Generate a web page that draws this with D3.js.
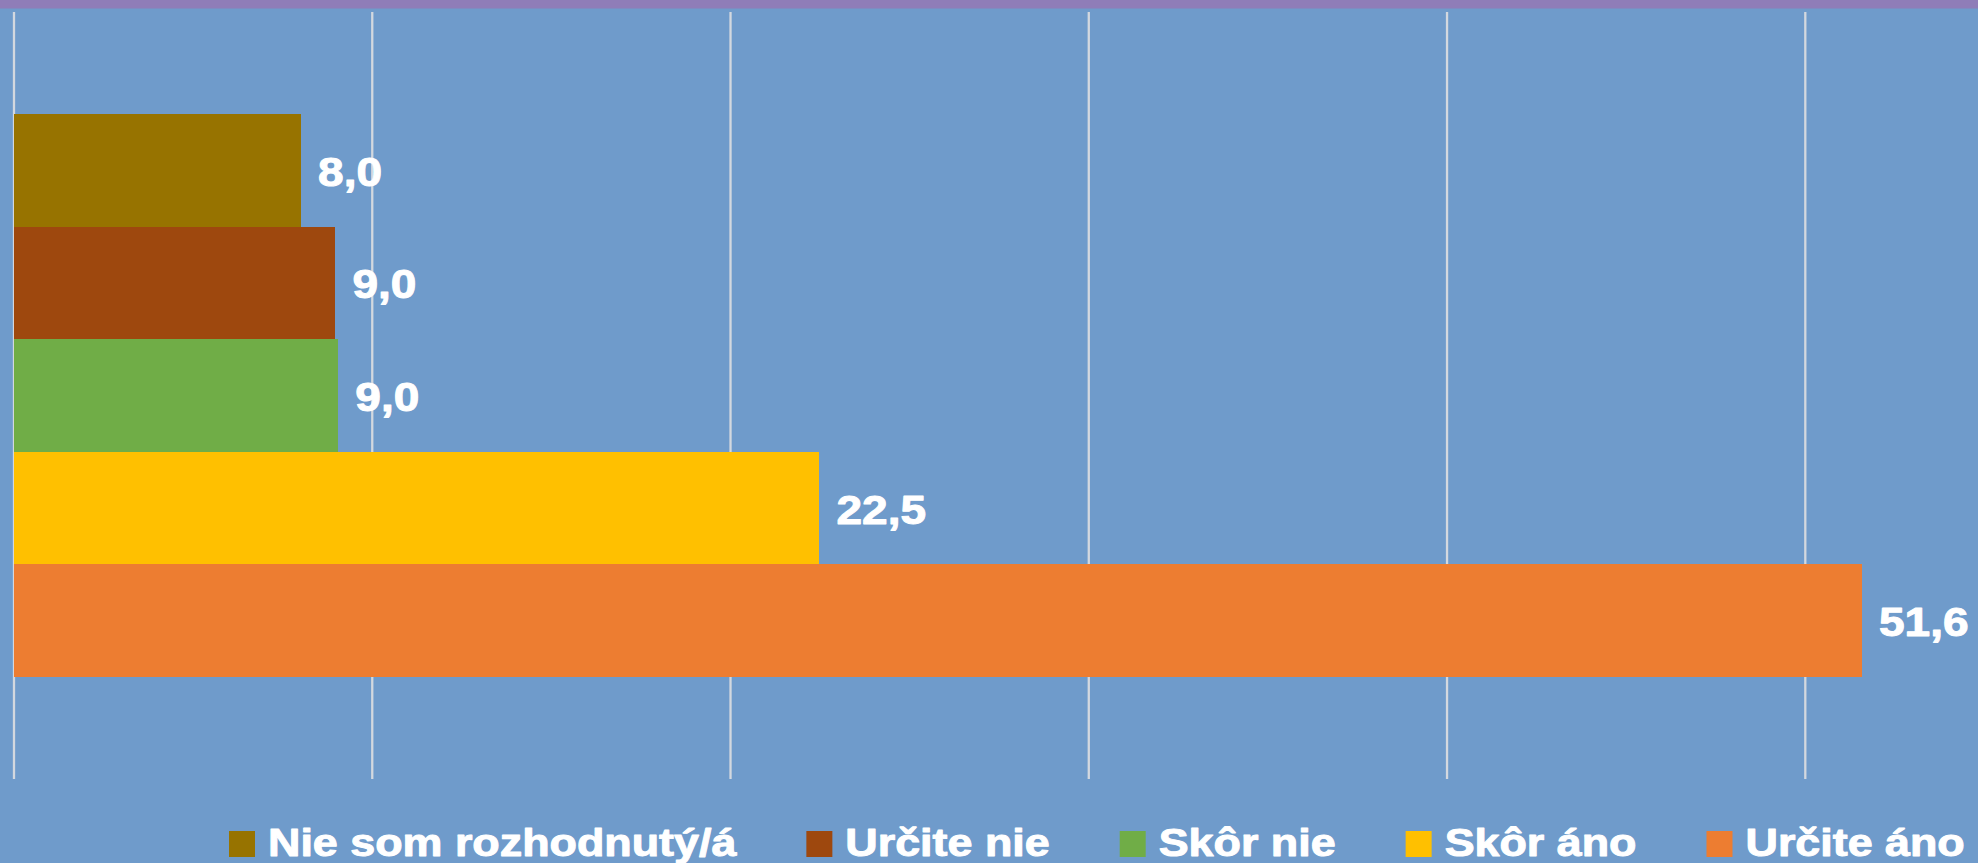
<!DOCTYPE html>
<html>
<head>
<meta charset="utf-8">
<script src="https://cdn.jsdelivr.net/npm/d3@7"></script>
<style>
  html, body { margin: 0; padding: 0; background: #6F9BCB; }
  svg { display: block; }
</style>
</head>
<body>
<script>
// Chart data
var series = ["Nie som rozhodnutý/á", "Určite nie", "Skôr nie", "Skôr áno", "Určite áno"];
var values = [8.0, 8.96, 9.04, 22.47, 51.57];
var labels = ["8,0", "9,0", "9,0", "22,5", "51,6"];
var colors = ["#977300", "#9E480E", "#70AD47", "#FFC000", "#ED7D31"];
var ticks = [0, 10, 20, 30, 40, 50];

var width = 1978,
    height = 863,
    plotTop = 12,
    plotBottom = 779;

var svg = d3.select("body").append("svg")
    .attr("width", width)
    .attr("height", height);

// Background and top strip
svg.append("rect")
    .attr("width", width)
    .attr("height", height)
    .style("fill", "#6F9BCB");
svg.append("rect")
    .attr("width", width)
    .attr("height", 8.5)
    .style("fill", "#8F7DB8");

var x = d3.scaleLinear()
    .domain([0, 50])
    .range([14, 1805.3]);

var y = d3.scaleBand()
    .domain(series)
    .range([plotTop, plotBottom])
    .paddingInner(0)
    .paddingOuter(0.906);

// Vertical gridlines
svg.append("g")
    .selectAll("line")
    .data(ticks)
    .enter()
    .append("line")
        .attr("x1", function (d) { return x(d); })
        .attr("x2", function (d) { return x(d); })
        .attr("y1", plotTop)
        .attr("y2", plotBottom)
        .style("stroke", "#D3D8DF")
        .style("stroke-width", 2.3);

// Bars
svg.append("g")
    .selectAll("rect")
    .data(series)
    .enter()
    .append("rect")
        .attr("x", x(0))
        .attr("y", function (d) { return y(d); })
        .attr("width", function (d, i) { return x(values[i]) - x(0); })
        .attr("height", y.bandwidth())
        .style("fill", function (d, i) { return colors[i]; })
        .style("shape-rendering", "crispEdges");

// Value labels (the original type is a little stretched and heavy)
svg.append("g")
    .selectAll("text")
    .data(series)
    .enter()
    .append("text")
        .attr("transform", function (d, i) {
            return "translate(" + (x(values[i]) + 17.5) + "," + (y(d) + y.bandwidth() / 2 + 15.5) + ") scale(1.15,1)";
        })
        .text(function (d, i) { return labels[i]; })
        .style("font-family", "'Liberation Sans', Arial, sans-serif")
        .style("font-weight", "bold")
        .style("font-size", "40px")
        .style("fill", "#FFFFFF")
        .style("stroke", "#FFFFFF")
        .style("stroke-width", 1)
        .style("stroke-linejoin", "round");

// Legend along the bottom
var legend = svg.append("g").attr("class", "legend");
var runningX = 229,
    keySize = 26,
    stretch = 1.15;

series.forEach(function (s, i) {
    var g = legend.append("g");
    g.append("rect")
        .attr("x", runningX)
        .attr("y", 831)
        .attr("width", keySize)
        .attr("height", keySize)
        .style("fill", colors[i]);
    var t = g.append("text")
        .attr("transform", "translate(" + (runningX + keySize + 13) + ",855.7) scale(" + stretch + ",1)")
        .text(s)
        .style("font-family", "'Liberation Sans', Arial, sans-serif")
        .style("font-weight", "bold")
        .style("font-size", "39px")
        .style("fill", "#FFFFFF")
        .style("stroke", "#FFFFFF")
        .style("stroke-width", 1)
        .style("stroke-linejoin", "round");
    var w = t.node().getComputedTextLength() * stretch;
    runningX += keySize + 13 + w + 70;
});
</script>
</body>
</html>
